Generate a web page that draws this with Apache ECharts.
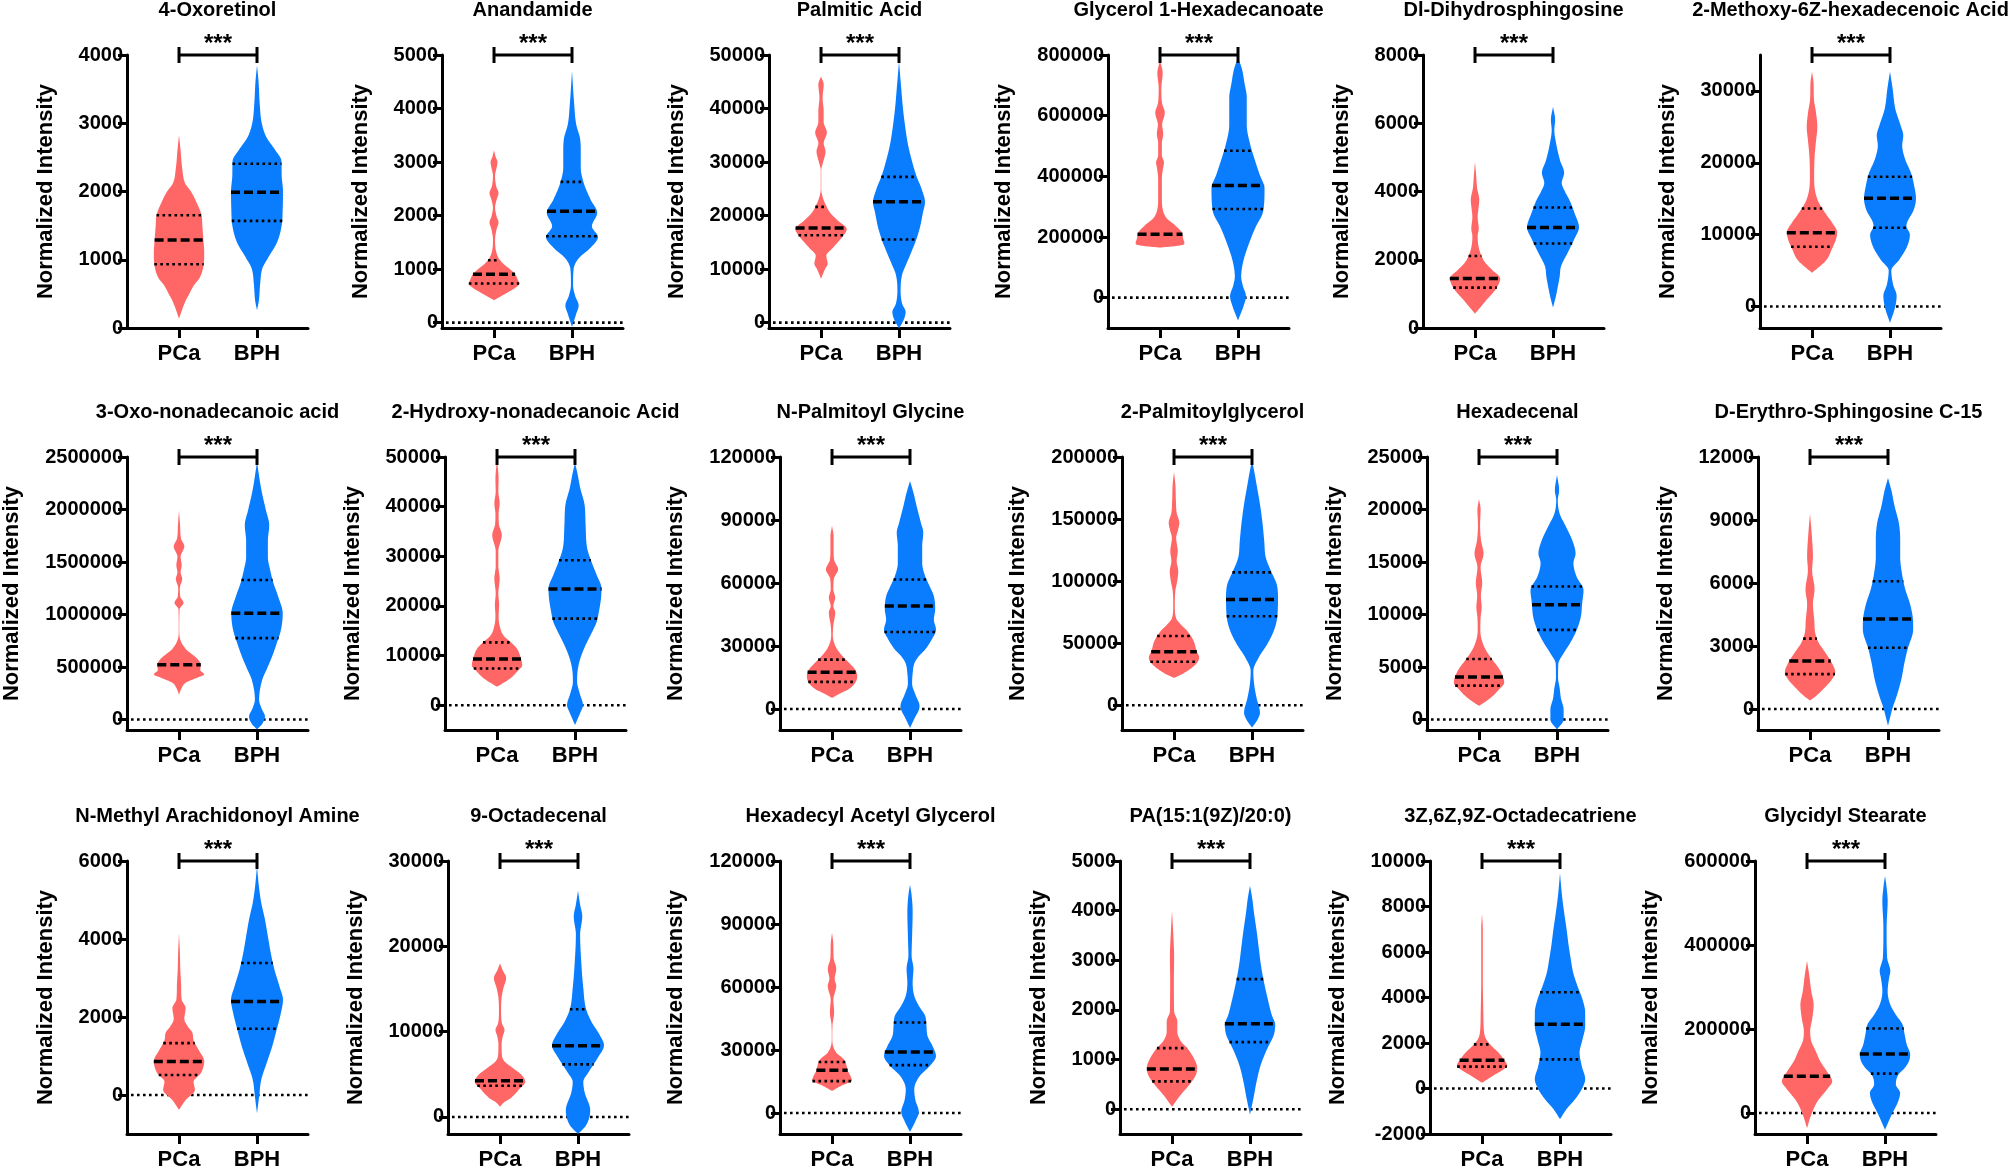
<!DOCTYPE html>
<html>
<head>
<meta charset="utf-8">
<script src="https://cdn.jsdelivr.net/npm/echarts@6/dist/echarts.min.js"></script>
<style>
html, body { margin: 0; padding: 0; background: #fff; }
#main { width: 2008px; height: 1171px; }
</style>
</head>
<body>
<div id="main"></div>
<script>
var groups = ['PCa', 'BPH'];

var titles = [
    '4-Oxoretinol', 'Anandamide', 'Palmitic Acid', 'Glycerol 1-Hexadecanoate', 'Dl-Dihydrosphingosine', '2-Methoxy-6Z-hexadecenoic Acid',
    '3-Oxo-nonadecanoic acid', '2-Hydroxy-nonadecanoic Acid', 'N-Palmitoyl Glycine', '2-Palmitoylglycerol', 'Hexadecenal', 'D-Erythro-Sphingosine C-15',
    'N-Methyl Arachidonoyl Amine', '9-Octadecenal', 'Hexadecyl Acetyl Glycerol', 'PA(15:1(9Z)/20:0)', '3Z,6Z,9Z-Octadecatriene', 'Glycidyl Stearate'
];

var yMin = [0, -100, -1000, -100000, 0, -3000, -100000, -5000, -10000, -20000, -1000, -1000, -1000, -2000, -10000, -500, -2000, -50000];
var yMax = [4000, 5000, 50000, 800000, 8000, 35000, 2500000, 50000, 120000, 200000, 25000, 12000, 6000, 30000, 120000, 5000, 10000, 600000];

var yTicks = [
    [0, 1000, 2000, 3000, 4000],
    [0, 1000, 2000, 3000, 4000, 5000],
    [0, 10000, 20000, 30000, 40000, 50000],
    [0, 200000, 400000, 600000, 800000],
    [0, 2000, 4000, 6000, 8000],
    [0, 10000, 20000, 30000],
    [0, 500000, 1000000, 1500000, 2000000, 2500000],
    [0, 10000, 20000, 30000, 40000, 50000],
    [0, 30000, 60000, 90000, 120000],
    [0, 50000, 100000, 150000, 200000],
    [0, 5000, 10000, 15000, 20000, 25000],
    [0, 3000, 6000, 9000, 12000],
    [0, 2000, 4000, 6000],
    [0, 10000, 20000, 30000],
    [0, 30000, 60000, 90000, 120000],
    [0, 1000, 2000, 3000, 4000, 5000],
    [-2000, 0, 2000, 4000, 6000, 8000, 10000],
    [0, 200000, 400000, 600000]
];

// violin outlines: [value, relative half width]
var pcaViolin = [
    [[140,0],[400,0.25],[480,0.36],[630,0.57],[730,0.77],[930,0.93],[1100,0.95],[1290,0.92],[1500,0.88],[1650,0.85],[1850,0.65],[2000,0.45],[2120,0.23],[2340,0.12],[2600,0.06],[2830,0]],
    [[420,0],[560,0.5],[650,0.8],[730,0.95],[800,0.9],[900,0.8],[1000,0.6],[1100,0.35],[1200,0.18],[1350,0.07],[1550,0.04],[1750,0.1],[1870,0.17],[1980,0.1],[2150,0.04],[2300,0.1],[2420,0.17],[2550,0.08],[2750,0.04],[2900,0.1],[3000,0.13],[3100,0.06],[3220,0]],
    [[8200,0],[10000,0.15],[11000,0.25],[12500,0.2],[14000,0.45],[16000,0.8],[17500,0.97],[19000,0.65],[20500,0.35],[22000,0.18],[23500,0.06],[25000,0.01],[28500,0.01],[30000,0.08],[32000,0.17],[33500,0.1],[35500,0.22],[37500,0.1],[39500,0.1],[42000,0.06],[44500,0.1],[46000,0]],
    [[165000,0],[172000,0.75],[180000,0.92],[195000,0.87],[215000,0.82],[240000,0.55],[262000,0.25],[285000,0.12],[330000,0.07],[390000,0.07],[430000,0.12],[445000,0.15],[470000,0.07],[510000,0.07],[540000,0.12],[570000,0.08],[610000,0.18],[640000,0.08],[690000,0.05],[740000,0.1],[783000,0]],
    [[420,0],[650,0.25],[810,0.42],[1100,0.75],[1300,0.9],[1450,0.95],[1700,0.65],[1900,0.4],[2100,0.25],[2400,0.13],[2700,0.1],[2900,0.14],[3250,0.1],[3500,0.13],[3750,0.16],[4100,0.08],[4500,0.04],[4870,0]],
    [[4700,0],[5600,0.3],[6500,0.55],[8000,0.75],[9300,0.9],[10300,0.95],[11700,0.75],[13000,0.5],[14500,0.25],[16000,0.12],[18000,0.08],[21000,0.1],[23000,0.15],[25000,0.2],[27000,0.15],[29000,0.07],[31000,0.06],[32700,0]],
    [[237000,0],[300000,0.1],[350000,0.25],[400000,0.7],[430000,0.95],[470000,0.8],[520000,0.82],[560000,0.75],[600000,0.6],[660000,0.3],[720000,0.12],[780000,0.03],[850000,0.01],[1050000,0.02],[1110000,0.17],[1170000,0.05],[1250000,0.03],[1340000,0.12],[1400000,0.06],[1470000,0.1],[1550000,0.06],[1650000,0.2],[1720000,0.08],[1850000,0.04],[1994000,0]],
    [[3700,0],[5400,0.5],[7000,0.8],[8000,0.95],[9400,0.9],[11400,0.75],[12800,0.5],[14000,0.25],[16000,0.1],[18000,0.06],[20200,0.08],[22500,0.05],[25500,0.1],[28000,0.05],[31000,0.05],[34300,0.18],[36500,0.07],[38500,0.06],[40700,0.1],[43000,0.05],[45500,0.06],[49500,0]],
    [[5300,0],[8000,0.4],[9200,0.6],[12400,0.87],[15600,0.95],[18800,0.87],[21900,0.65],[25100,0.4],[28300,0.2],[31500,0.08],[35000,0.03],[40000,0.05],[43500,0.1],[46000,0.12],[49000,0.05],[53000,0.12],[57000,0.05],[62000,0.07],[66500,0.23],[71000,0.08],[76000,0.06],[82000,0.06],[87300,0]],
    [[22000,0],[25000,0.3],[27500,0.5],[33000,0.82],[38300,0.95],[43700,0.85],[51800,0.74],[59800,0.5],[65200,0.25],[70000,0.08],[80000,0.03],[92000,0.05],[100000,0.12],[108000,0.16],[116000,0.1],[124000,0.14],[135000,0.08],[141000,0.15],[147000,0.2],[155000,0.1],[165000,0.07],[178000,0.05],[188000,0]],
    [[1300,0],[1800,0.3],[2200,0.5],[2850,0.75],[3500,0.95],[4100,0.9],[4900,0.74],[5700,0.5],[6650,0.25],[7600,0.1],[8500,0.05],[9700,0.06],[10700,0.1],[11800,0.07],[13000,0.12],[14500,0.06],[15800,0.17],[17000,0.08],[18500,0.04],[20000,0.06],[21000,0]],
    [[400,0],[700,0.3],[950,0.5],[1400,0.82],[1750,0.95],[2200,0.82],[2700,0.57],[3150,0.33],[3600,0.2],[4250,0.16],[5000,0.11],[5700,0.17],[6600,0.08],[7250,0.11],[8400,0.06],[9300,0]],
    [[-380,0],[-130,0.25],[130,0.6],[340,0.55],[560,0.82],[860,0.95],[1160,0.74],[1400,0.55],[1600,0.5],[1760,0.33],[1950,0.2],[2230,0.25],[2450,0.1],[2800,0.08],[3200,0.05],[3700,0.03],[4150,0]],
    [[1200,0],[1700,0.15],[2200,0.4],[3300,0.74],[4100,0.95],[4900,0.82],[5700,0.5],[6500,0.17],[7300,0.07],[8500,0.06],[9400,0.1],[10200,0.17],[11000,0.07],[12500,0.04],[14000,0.06],[15000,0.12],[16300,0.23],[17200,0.1],[18000,0]],
    [[10500,0],[13000,0.35],[15500,0.75],[17500,0.7],[20000,0.6],[22500,0.55],[25500,0.45],[28500,0.18],[31500,0.05],[36000,0.01],[42000,0.02],[48000,0.08],[54000,0.05],[60500,0.16],[64000,0.1],[68500,0.16],[74000,0.06],[80000,0.05],[86000,0]],
    [[50,0],[290,0.33],[490,0.65],[690,0.9],[830,0.95],[1030,0.82],[1230,0.57],[1370,0.33],[1570,0.2],[1770,0.2],[1970,0.08],[2600,0.07],[3050,0.08],[3500,0.05],[4000,0]],
    [[250,0],[550,0.4],[850,0.82],[1000,0.95],[1280,0.82],[1580,0.62],[1870,0.36],[2160,0.16],[2450,0.08],[3300,0.05],[4800,0.03],[7000,0.03],[7700,0]],
    [[-36000,0],[-4000,0.16],[28000,0.4],[60000,0.8],[75000,0.95],[99000,0.75],[123000,0.5],[147000,0.33],[171000,0.16],[195000,0.12],[226000,0.2],[258000,0.25],[290000,0.16],[330000,0.08],[362000,0]]
];

var bphViolin = [
    [[260,0],[400,0.07],[650,0.12],[870,0.2],[1050,0.45],[1250,0.75],[1500,0.93],[1750,0.97],[2000,0.98],[2250,0.93],[2450,0.92],[2600,0.7],[2800,0.35],[3000,0.18],[3300,0.1],[3600,0.06],[3850,0]],
    [[-80,0],[150,0.15],[320,0.25],[500,0.12],[700,0.04],[1000,0.06],[1200,0.25],[1400,0.7],[1600,0.98],[1800,0.75],[2050,0.95],[2300,0.7],[2600,0.45],[2900,0.33],[3200,0.33],[3450,0.3],[3700,0.16],[4100,0.08],[4700,0]],
    [[-1100,0],[800,0.2],[2000,0.25],[3500,0.12],[6000,0.06],[9000,0.12],[11000,0.28],[13000,0.45],[15500,0.65],[18000,0.8],[20500,0.9],[22500,0.98],[25000,0.85],[27500,0.65],[30000,0.5],[33000,0.35],[36000,0.25],[40000,0.15],[44000,0.08],[48800,0]],
    [[-75000,0],[-30000,0.2],[5000,0.3],[40000,0.18],[70000,0.12],[120000,0.2],[175000,0.4],[230000,0.65],[285000,0.95],[360000,1.0],[405000,0.82],[450000,0.65],[505000,0.46],[570000,0.33],[660000,0.33],[705000,0.25],[760000,0.13],[789000,0]],
    [[600,0],[900,0.1],[1200,0.18],[1500,0.25],[1800,0.3],[2200,0.55],[2600,0.8],[2950,0.98],[3350,0.82],[3750,0.62],[4000,0.45],[4250,0.33],[4550,0.42],[4900,0.27],[5400,0.12],[5800,0.05],[6100,0.08],[6480,0]],
    [[-2300,0],[0,0.2],[1500,0.25],[3000,0.12],[5000,0.05],[6500,0.35],[8400,0.65],[10000,0.75],[11200,0.62],[13500,0.9],[15000,0.98],[17000,0.9],[18500,0.8],[20500,0.57],[22400,0.46],[23800,0.5],[25200,0.4],[27500,0.2],[30300,0.1],[32700,0]],
    [[-95000,0],[-40000,0.2],[30000,0.3],[100000,0.18],[190000,0.08],[380000,0.2],[475000,0.36],[600000,0.57],[730000,0.75],[850000,0.9],[1010000,0.97],[1170000,0.8],[1300000,0.62],[1420000,0.5],[1550000,0.41],[1700000,0.41],[1850000,0.46],[2000000,0.33],[2180000,0.17],[2450000,0]],
    [[-4000,0],[-1500,0.2],[0,0.3],[2500,0.17],[4700,0.08],[7000,0.1],[9400,0.2],[12100,0.4],[14800,0.65],[16800,0.82],[18800,0.9],[21500,0.98],[23500,1.0],[26200,0.82],[28900,0.62],[31600,0.46],[36300,0.4],[40400,0.36],[43700,0.2],[47000,0.08],[48800,0]],
    [[-9000,0],[-5000,0.15],[1300,0.36],[7000,0.2],[12000,0.08],[17000,0.1],[21900,0.17],[25100,0.33],[28300,0.57],[33100,0.82],[37800,0.98],[42600,0.9],[47400,0.95],[53700,0.9],[58500,0.74],[63300,0.57],[69600,0.46],[77600,0.46],[84000,0.5],[88700,0.41],[96600,0.25],[103000,0.13],[108600,0]],
    [[-18000,0],[-12000,0.2],[-6000,0.3],[6000,0.17],[17000,0.08],[27500,0.05],[38300,0.25],[49000,0.57],[59800,0.82],[70600,0.95],[86800,0.98],[97600,0.93],[107000,0.74],[119000,0.52],[132600,0.46],[146000,0.4],[162000,0.3],[178000,0.17],[190000,0.07],[197000,0]],
    [[-950,0],[0,0.25],[950,0.25],[2000,0.15],[3000,0.1],[4000,0.04],[5300,0.05],[6300,0.25],[7300,0.5],[8500,0.74],[9800,0.9],[11100,0.95],[12300,1.0],[13600,0.74],[14900,0.62],[15800,0.7],[17100,0.57],[18400,0.33],[19600,0.1],[20900,0.03],[21800,0.08],[23300,0]],
    [[-800,0],[-300,0.1],[0,0.16],[630,0.33],[1400,0.5],[2200,0.62],[2850,0.74],[3800,0.95],[4400,0.93],[5050,0.82],[5700,0.65],[6500,0.52],[7250,0.46],[8050,0.46],[8850,0.41],[9650,0.25],[10400,0.13],[11000,0]],
    [[-470,0],[-40,0.08],[390,0.16],[810,0.36],[1240,0.57],[1670,0.74],[2100,0.9],[2440,0.98],[2780,0.85],[3210,0.66],[3640,0.52],[4070,0.41],[4500,0.3],[4930,0.16],[5360,0.07],[5870,0]],
    [[-2000,0],[-1000,0.3],[800,0.46],[2900,0.25],[4100,0.2],[5300,0.41],[6900,0.74],[8400,0.98],[9600,0.82],[11200,0.5],[12700,0.3],[15100,0.2],[17800,0.13],[21400,0.08],[23500,0.16],[24900,0.08],[26500,0]],
    [[-9000,0],[-4000,0.2],[500,0.33],[6400,0.2],[11200,0.16],[17500,0.36],[22300,0.74],[27100,0.98],[31900,0.85],[36700,0.66],[41500,0.62],[46300,0.57],[51100,0.33],[55800,0.16],[62200,0.1],[68600,0.13],[75000,0.06],[84600,0.08],[95800,0.1],[103800,0.06],[108800,0]],
    [[-110,0],[220,0.13],[560,0.25],[900,0.41],[1230,0.66],[1500,0.9],[1700,0.95],[1900,0.82],[2240,0.66],[2580,0.52],[2910,0.41],[3250,0.33],[3590,0.25],[3920,0.16],[4260,0.08],[4500,0]],
    [[-1350,0],[-900,0.25],[-470,0.57],[-30,0.82],[410,0.95],[990,0.82],[1580,0.74],[2160,0.85],[2740,0.95],[3330,0.95],[3910,0.85],[4500,0.66],[5080,0.5],[5660,0.41],[6250,0.33],[6980,0.25],[7710,0.16],[8430,0.08],[9460,0]],
    [[-40000,0],[-4000,0.25],[28000,0.5],[48000,0.57],[68000,0.41],[91000,0.5],[107000,0.74],[123000,0.9],[139000,0.95],[163000,0.82],[187000,0.74],[211000,0.66],[234000,0.41],[258000,0.2],[290000,0.1],[320000,0.15],[338000,0.2],[370000,0.08],[440000,0.06],[505000,0.1],[537000,0.06],[565000,0]]
];

var pcaMedian = [1290, 904, 17700, 209000, 1447, 10270, 522000, 9290, 17500, 43100, 4050, 2290, 857, 4240, 20400, 808, 1240, 87400];
var pcaQ1 = [934, 730, 16330, null, 1183, 8310, null, 7400, 12900, 35000, 3230, 1660, 514, 3650, 15200, 560, 960, null];
var pcaQ3 = [1653, 1166, 21630, null, 2112, 13630, null, 12650, 23500, 55800, 5760, 3350, 1330, null, 24300, 1230, 1940, null];

var bphMedian = [1990, 2082, 22570, 370000, 2944, 15070, 1013000, 23400, 49000, 85200, 10920, 4290, 2400, 8350, 29000, 1720, 2820, 140700];
var bphQ1 = [1570, 1615, 15520, 292500, 2474, 10960, 775000, 17430, 36700, 71700, 8540, 2920, 1700, 6160, 22800, 1350, 1280, 93800];
var bphQ3 = [2406, 2630, 27240, 484200, 3530, 18060, 1329000, 29200, 61700, 107000, 12660, 6080, 3385, 12630, 43100, 2620, 4230, 201100];

var significance = '***';

// layout
var gridLeft = [127, 442, 769, 1108, 1423, 1760, 127, 445, 780, 1122, 1427, 1758, 127, 448, 780, 1120, 1430, 1755];
var rowTop = [55, 457, 861];
var GRID_W = 181, GRID_H = 273;
var HALF = 0.34;
var colors = ['#FF6666', '#0A7DFF'];
var FONT = '"Liberation Sans", Arial, Helvetica, sans-serif';

// smooth the outline (monotone cubic), only for drawing
function densify(prof) {
    var n = prof.length, v = [], w = [], d = [], m = [], k;
    for (k = 0; k < n; k++) { v.push(prof[k][0]); w.push(prof[k][1]); }
    for (k = 0; k < n - 1; k++) d.push((w[k + 1] - w[k]) / (v[k + 1] - v[k]));
    m[0] = d[0];
    m[n - 1] = d[n - 2];
    for (k = 1; k < n - 1; k++) m[k] = d[k - 1] * d[k] <= 0 ? 0 : (d[k - 1] + d[k]) / 2;
    for (k = 0; k < n - 1; k++) {
        if (d[k] === 0) { m[k] = 0; m[k + 1] = 0; continue; }
        var a = m[k] / d[k], b = m[k + 1] / d[k], s = a * a + b * b;
        if (s > 9) {
            var t = 3 / Math.sqrt(s);
            m[k] = t * a * d[k];
            m[k + 1] = t * b * d[k];
        }
    }
    var out = [];
    for (k = 0; k < n - 1; k++) {
        var h = v[k + 1] - v[k];
        for (var j = 0; j < 12; j++) {
            var u = j / 12, u2 = u * u, u3 = u2 * u;
            var y = (2 * u3 - 3 * u2 + 1) * w[k] + (u3 - 2 * u2 + u) * h * m[k]
                + (-2 * u3 + 3 * u2) * w[k + 1] + (u3 - u2) * h * m[k + 1];
            out.push([v[k] + u * h, Math.max(0, y)]);
        }
    }
    out.push([v[n - 1], w[n - 1]]);
    return out;
}

function widthAt(pts, val) {
    for (var k = 0; k < pts.length - 1; k++) {
        if (val >= pts[k][0] && val <= pts[k + 1][0]) {
            var f = (val - pts[k][0]) / (pts[k + 1][0] - pts[k][0]);
            return pts[k][1] + f * (pts[k + 1][1] - pts[k][1]);
        }
    }
    return 0;
}

function violin(api, prof, xc, color, med, q1, q3) {
    var pts = densify(prof);
    var right = [], left = [];
    pts.forEach(function (p) {
        right.push(api.coord([xc + p[1] * HALF, p[0]]));
        left.unshift(api.coord([xc - p[1] * HALF, p[0]]));
    });
    var children = [{
        type: 'polygon',
        shape: { points: right.concat(left) },
        style: { fill: color }
    }];
    [[q1, false], [q3, false], [med, true]].forEach(function (s) {
        if (s[0] == null) return;
        var hw = widthAt(pts, s[0]) * HALF;
        var a = api.coord([xc - hw, s[0]]), b = api.coord([xc + hw, s[0]]);
        children.push({
            type: 'line',
            shape: { x1: a[0], y1: a[1], x2: b[0], y2: b[1] },
            style: {
                stroke: '#000',
                lineWidth: s[1] ? 3.5 : 2.6,
                lineDash: s[1] ? [9, 4] : [2.6, 3.4]
            }
        });
    });
    return { type: 'group', children: children };
}

function drawItem(i, params, api) {
    var cs = params.coordSys;
    if (params.dataIndex === 0) {
        if (yMin[i] >= 0) return null;
        var y0 = api.coord([1, 0])[1];
        return {
            type: 'line',
            shape: { x1: cs.x + 4, y1: y0, x2: cs.x + cs.width, y2: y0 },
            style: { stroke: '#000', lineWidth: 2.6, lineDash: [2.6, 3.4] }
        };
    }
    if (params.dataIndex === 1) {
        return violin(api, pcaViolin[i], 1, colors[0], pcaMedian[i], pcaQ1[i], pcaQ3[i]);
    }
    if (params.dataIndex === 2) {
        return violin(api, bphViolin[i], 2, colors[1], bphMedian[i], bphQ1[i], bphQ3[i]);
    }
    // significance bracket
    var x1 = api.coord([1, 0])[0], x2 = api.coord([2, 0])[0];
    var yb = cs.y;
    var st = { stroke: '#000', lineWidth: 3 };
    return {
        type: 'group',
        children: [
            { type: 'line', shape: { x1: x1, y1: yb, x2: x2, y2: yb }, style: st },
            { type: 'line', shape: { x1: x1, y1: yb - 8, x2: x1, y2: yb + 8 }, style: st },
            { type: 'line', shape: { x1: x2, y1: yb - 8, x2: x2, y2: yb + 8 }, style: st },
            {
                type: 'text',
                x: (x1 + x2) / 2, y: yb - 11,
                style: {
                    text: significance, fill: '#000',
                    font: 'bold 24px ' + FONT,
                    align: 'center', verticalAlign: 'middle'
                }
            }
        ]
    };
}

var grids = [], xAxes = [], yAxes = [], series = [], graphics = [];

titles.forEach(function (title, i) {
    var top = rowTop[Math.floor(i / 6)];
    var maxLen = 0;
    yTicks[i].forEach(function (t) { maxLen = Math.max(maxLen, String(t).length); });

    grids.push({ left: gridLeft[i], top: top, width: GRID_W, height: GRID_H });

    xAxes.push({
        gridIndex: i,
        type: 'value',
        min: 0.333,
        max: 2.654,
        axisLine: { onZero: false, lineStyle: { color: '#000', width: 3 } },
        axisTick: { customValues: [1, 2], length: 10, lineStyle: { color: '#000', width: 3 } },
        axisLabel: {
            customValues: [1, 2],
            formatter: function (v) { return groups[Math.round(v) - 1]; },
            color: '#000', fontSize: 22, fontWeight: 'bold', fontFamily: FONT, margin: 15
        },
        splitLine: { show: false }
    });

    yAxes.push({
        gridIndex: i,
        type: 'value',
        min: yMin[i],
        max: yMax[i],
        name: 'Normalized Intensity',
        nameLocation: 'middle',
        nameGap: 26 + 11.1 * maxLen,
        nameTextStyle: { color: '#000', fontSize: 22, fontWeight: 'bold', fontFamily: FONT },
        axisLine: { show: true, onZero: false, lineStyle: { color: '#000', width: 3 } },
        axisTick: { show: true, customValues: yTicks[i], length: 9, lineStyle: { color: '#000', width: 3 } },
        axisLabel: {
            customValues: yTicks[i],
            formatter: function (v) { return String(v); },
            color: '#000', fontSize: 20, fontWeight: 'bold', fontFamily: FONT, margin: 4
        },
        splitLine: { show: false }
    });

    series.push({
        type: 'custom',
        xAxisIndex: i,
        yAxisIndex: i,
        clip: false,
        silent: true,
        data: [[1.5, 0], [1, 0], [2, 0], [1.5, 0]],
        renderItem: function (params, api) { return drawItem(i, params, api); }
    });

    graphics.push({
        type: 'text',
        x: gridLeft[i] + GRID_W / 2,
        y: top - 45,
        style: {
            text: title, fill: '#000',
            font: 'bold 20px ' + FONT,
            align: 'center', verticalAlign: 'middle'
        }
    });
});

var chart = echarts.init(document.getElementById('main'));
chart.setOption({
    backgroundColor: '#fff',
    animation: false,
    grid: grids,
    xAxis: xAxes,
    yAxis: yAxes,
    series: series,
    graphic: graphics
});
</script>
</body>
</html>
